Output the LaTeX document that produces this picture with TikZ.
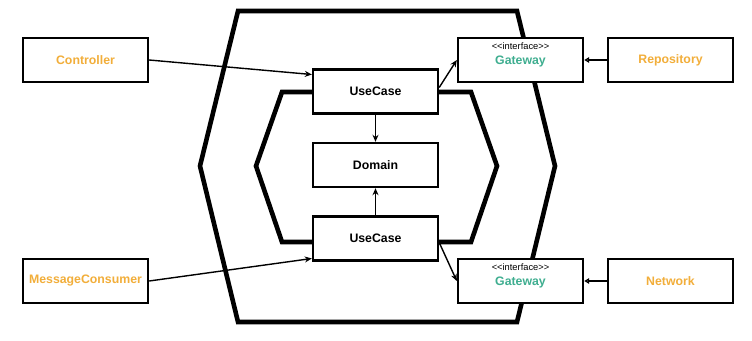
\documentclass[tikz,border=0pt]{standalone}
\usepackage{fontspec}
\setmainfont{Liberation Sans}
\usetikzlibrary{arrows.meta}
\definecolor{orangeT}{HTML}{F2AE3A}
\definecolor{tealT}{HTML}{3FAE90}
\begin{document}
\begin{tikzpicture}[x=1pt,y=-1pt,
  hexline/.style={line width=4.6pt, line join=miter},
  lbl/.style={font=\fontsize{12.3}{14}\selectfont\bfseries},
  box/.style={draw, line width=2.4pt, fill=white, minimum width=125pt, minimum height=44pt, inner sep=0pt, lbl},
  conn/.style={line width=1.4pt, -{Stealth[length=7pt,width=6pt]}},
  impl/.style={line width=1.4pt, -{Triangle[open,length=5pt,width=5.5pt]}}]
\useasboundingbox (0,0) rectangle (752,340);
\fill[white] (0,0) rectangle (752,340);
% outer hexagon
\draw[hexline] (238,11) -- (517,11) -- (555,166) -- (517,322) -- (238,322) -- (200,166) -- cycle;
% inner hexagon
\draw[hexline] (282,92) -- (471,92) -- (497,166) -- (471,242) -- (282,242) -- (256,166) -- cycle;
% boxes
\node[box] (uc1) at (375.5,91.5) {UseCase};
\node[box] (dom) at (375.5,165) {Domain};
\node[box] (uc2) at (375.5,238.5) {UseCase};
\node[box, text=orangeT] (ctrl) at (85.5,60) {Controller};
\node[box, text=orangeT] (mc) at (85.5,281) {MessageConsumer};
\node[box, text=orangeT] (repo) at (670.5,60) {Repository};
\node[box, text=orangeT] (net) at (670.5,281) {Network};
\node[box] (gw1) at (520.5,60) {};
\node[box] (gw2) at (520.5,281) {};
\node[lbl, text=tealT] (gw1t) at (520.5,61) {Gateway};
\node[lbl, text=tealT] (gw2t) at (520.5,282) {Gateway};
\node[font=\fontsize{9.3}{10}\selectfont] (if1) at (520.5,46) {<{}<interface>{}>};
\node[font=\fontsize{9.3}{10}\selectfont] (if2) at (520.5,267) {<{}<interface>{}>};
% connectors
\draw[conn] (ctrl.east) -- ([yshift=17pt]uc1.west);
\draw[conn] (mc.east) -- ([yshift=-20pt]uc2.west);
\draw[conn] (uc1.south) -- (dom.north);
\draw[conn] (uc2.north) -- (dom.south);
\draw[conn] ([yshift=4pt]uc1.east) -- (gw1.west);
\draw[conn] ([yshift=-4pt]uc2.east) -- (gw2.west);
\draw[impl] (repo.west) -- (gw1.east);
\draw[impl] (net.west) -- (gw2.east);
\end{tikzpicture}
\end{document}
